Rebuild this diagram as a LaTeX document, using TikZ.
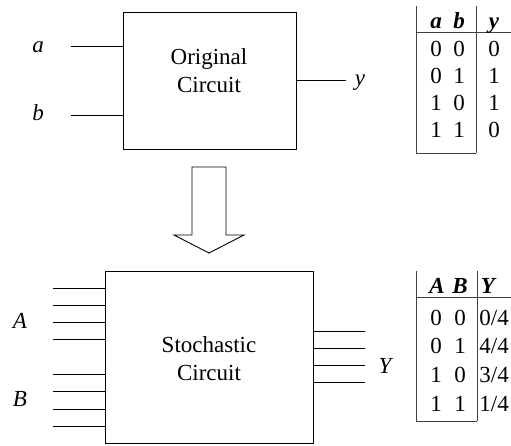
\documentclass[tikz,border=0pt]{standalone}
\usepackage{fontspec}
\setmainfont{Liberation Serif}
\begin{document}
\begin{tikzpicture}[x=1pt,y=-1pt,line width=0.9pt,
  font=\fontsize{23}{28}\selectfont,
  box/.style={draw,inner sep=0pt},
  txt/.style={align=center,inner sep=0pt},
  var/.style={inner sep=0pt,anchor=base,font=\fontsize{23}{28}\selectfont\itshape},
  cell/.style={inner sep=0pt,anchor=base},
  head/.style={cell,font=\fontsize{23}{28}\selectfont\bfseries\itshape},
  rule/.style={draw=black!75,line width=0.8pt}]
	\useasboundingbox (0,0) rectangle (511,445);
	% original circuit
	\node (orig) [box,minimum width=173pt,minimum height=137pt] at (209.5,80.5) {};
	\node (origtext) [txt] at (209,71) {Original\\Circuit};
	\node (a) [var] at (38,52) {a};
	\node (b) [var] at (38,120) {b};
	\node (y) [var] at (360,85) {y};
	\coordinate (ain) at (71,46);
	\coordinate (bin) at (71,115);
	\coordinate (yout) at (346,80);
	\draw (ain) -- (ain -| orig.west);
	\draw (bin) -- (bin -| orig.west);
	\draw (orig.east |- yout) -- (yout);
	% block arrow
	\draw (192,167) -- (226,167) -- (226,235) -- (244,235) -- (209,253) -- (174,235) -- (192,235) -- cycle;
	% stochastic circuit
	\node (stoch) [box,minimum width=208pt,minimum height=172pt] at (209,357) {};
	\node (stochtext) [txt] at (209,359) {Stochastic\\Circuit};
	\node (A) [var] at (20,328) {A};
	\node (B) [var] at (20,406) {B};
	\node (Y) [var] at (385,373) {Y};
	\foreach \y [count=\i] in {288,305,322,339,374,391,409,426}
		{\coordinate (in\i) at (53,\y); \draw (in\i) -- (in\i -| stoch.west);}
	\foreach \y [count=\i] in {331,348,365,382}
		{\coordinate (out\i) at (365,\y); \draw (stoch.east |- out\i) -- (out\i);}
	% truth table
	\draw[rule] (416,6) -- (416,153) (476,6) -- (476,153) (416,32) -- (511,32) (416,153) -- (476,153);
	\node (ha) [head] at (436,28) {a};
	\node (hb) [head] at (459,28) {b};
	\node (hy) [head] at (494,28) {y};
	\foreach \p/\q/\r [count=\i] in {0/0/0,0/1/1,1/0/1,1/1/0}
		{\pgfmathsetmacro{\yy}{28.7+27.3*\i}
		\node (p\i) [cell] at (436,\yy) {\p};
		\node (q\i) [cell] at (459,\yy) {\q};
		\node (r\i) [cell] at (494,\yy) {\r};}
	% probability table
	\draw[rule] (416,271) -- (416,421) (477,271) -- (477,421) (416,297) -- (511,297) (416,421) -- (477,421);
	\node (hA) [head] at (437,293) {A};
	\node (hB) [head] at (460,293) {B};
	\node (hY) [head] at (488,293) {Y};
	\foreach \p/\q/\r [count=\i] in {0/0/{0/4},0/1/{4/4},1/0/{3/4},1/1/{1/4}}
		{\pgfmathsetmacro{\yy}{296.3+28.7*\i}
		\node (P\i) [cell] at (436,\yy) {\p};
		\node (Q\i) [cell] at (460,\yy) {\q};
		\node (R\i) [cell,anchor=base west] at (479,\yy) {\r};}
\end{tikzpicture}
\end{document}
